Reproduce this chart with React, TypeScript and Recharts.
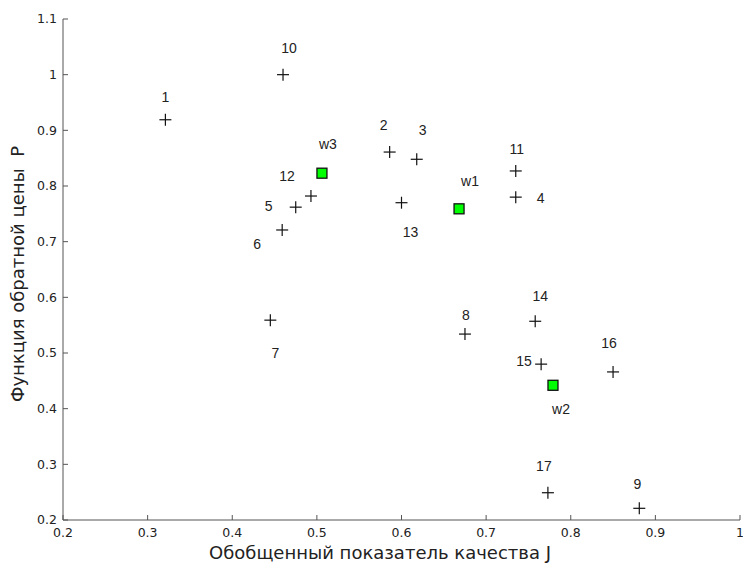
import React from 'react';
import { ScatterChart, Scatter, XAxis, YAxis } from 'recharts';

// точки-альтернативы (J, P)
const pointNames = ['1', '2', '3', '4', '5', '6', '7', '8', '9', '10', '11', '12', '13', '14', '15', '16', '17'];
const pointJ = [0.321, 0.586, 0.618, 0.735, 0.475, 0.459, 0.445, 0.675, 0.881, 0.46, 0.735, 0.493, 0.6, 0.758, 0.765, 0.85, 0.773];
const pointP = [0.919, 0.861, 0.848, 0.78, 0.762, 0.721, 0.559, 0.534, 0.221, 1.0, 0.827, 0.782, 0.77, 0.557, 0.48, 0.466, 0.249];

// центры кластеров
const centerNames = ['w1', 'w2', 'w3'];
const centerJ = [0.668, 0.779, 0.506];
const centerP = [0.759, 0.442, 0.823];

const xTicks = [0.2, 0.3, 0.4, 0.5, 0.6, 0.7, 0.8, 0.9, 1];
const yTicks = [0.2, 0.3, 0.4, 0.5, 0.6, 0.7, 0.8, 0.9, 1, 1.1];

// где подпись стоит относительно маркера (px)
const labelShift: Record<string, [number, number]> = {
  '1': [0, -23], '10': [6, -27], '2': [-6, -27], '3': [6, -29], '11': [1, -22],
  '4': [25, 1], 'w3': [6, -29], '12': [-24, -20], '5': [-27, -1], '6': [-25, 14],
  '13': [9, 29], 'w1': [11, -28], '7': [5, 33], '8': [1, -19], '14': [5, -25],
  '15': [-17, -3], '16': [-4, -29], 'w2': [8, 24], '17': [-4, -27], '9': [-2, -24],
};

const points = pointNames.map((name, i) => ({ name, x: pointJ[i], y: pointP[i] }));
const centers = centerNames.map((name, i) => ({ name, x: centerJ[i], y: centerP[i] }));

const labelFont = { fontFamily: '"Liberation Sans", Arial, sans-serif', fontSize: 14, fill: '#222' };
const tickFont = { fontFamily: '"DejaVu Sans", sans-serif', fontSize: 12.5, fill: '#222' };
const axisColor = '#555';

const PointLabel = ({ cx, cy, name }: { cx: number; cy: number; name: string }) => {
  const [dx, dy] = labelShift[name] || [0, -20];
  return (
    <text x={cx + dx} y={cy + dy} textAnchor="middle" dominantBaseline="central" {...labelFont}>
      {name}
    </text>
  );
};

const PlusShape = (props: any) => {
  const { cx, cy, payload } = props;
  return (
    <g>
      <line x1={cx - 6} x2={cx + 6} y1={cy} y2={cy} stroke="#111" strokeWidth={1.2} />
      <line x1={cx} x2={cx} y1={cy - 6} y2={cy + 6} stroke="#111" strokeWidth={1.2} />
      <PointLabel cx={cx} cy={cy} name={payload.name} />
    </g>
  );
};

const SquareShape = (props: any) => {
  const { cx, cy, payload } = props;
  return (
    <g>
      <rect x={cx - 5} y={cy - 5} width={10} height={10} fill="#00ff00" stroke="#111" strokeWidth={1.3} />
      <PointLabel cx={cx} cy={cy} name={payload.name} />
    </g>
  );
};

const XTitle = () => (
  <text x={380} y={559} textAnchor="middle" fontFamily='"DejaVu Sans", sans-serif' fontSize={18} fill="#222">
    Обобщенный показатель качества J
  </text>
);

const YTitle = () => (
  <text
    x={24}
    y={274}
    transform="rotate(-90 24 274)"
    textAnchor="middle"
    fontFamily='"DejaVu Sans", sans-serif'
    fontSize={18}
    fill="#222"
    style={{ whiteSpace: 'pre' }}
  >
    {'Функция обратной цены  P'}
  </text>
);

export default function App() {
  return (
    <div style={{ position: 'absolute', left: 0, top: 0, width: 743, height: 565, background: '#fff' }}>
      <ScatterChart width={743} height={565} margin={{ top: 19, right: 3, bottom: 0, left: 8 }}>
        <XAxis
          type="number"
          dataKey="x"
          domain={[0.2, 1]}
          ticks={xTicks}
          tickFormatter={(v: number) => String(v)}
          height={45}
          tickSize={-5}
          tickMargin={13}
          stroke={axisColor}
          tick={tickFont}
          label={<XTitle />}
          allowDataOverflow
        />
        <XAxis
          xAxisId="top"
          orientation="top"
          type="number"
          domain={[0.2, 1]}
          ticks={xTicks}
          height={0}
          tickSize={-5}
          tick={false}
          stroke={axisColor}
          allowDataOverflow
        />
        <YAxis
          type="number"
          dataKey="y"
          domain={[0.2, 1.1]}
          ticks={yTicks}
          tickFormatter={(v: number) => String(v)}
          width={55}
          tickSize={-5}
          tickMargin={11}
          stroke={axisColor}
          tick={tickFont}
          label={<YTitle />}
          allowDataOverflow
        />
        <YAxis
          yAxisId="right"
          orientation="right"
          type="number"
          domain={[0.2, 1.1]}
          ticks={yTicks}
          width={0}
          tickSize={-5}
          tick={false}
          stroke={axisColor}
          allowDataOverflow
        />
        <Scatter data={points} shape={<PlusShape />} isAnimationActive={false} />
        <Scatter data={centers} shape={<SquareShape />} isAnimationActive={false} />
      </ScatterChart>
    </div>
  );
}
